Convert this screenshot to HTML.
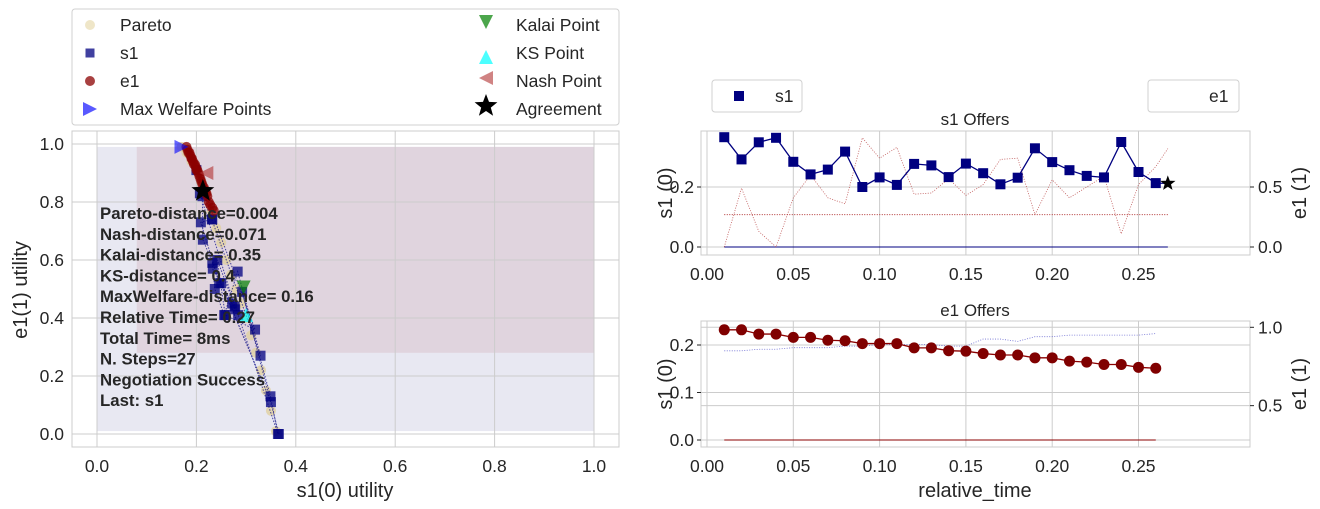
<!DOCTYPE html>
<html><head><meta charset="utf-8"><style>
body{margin:0;background:#fff;}
svg{display:block;font-family:"Liberation Sans",Arial,sans-serif;}
</style></head><body>
<svg id="fig" width="1320" height="509" viewBox="0 0 1320 509" xmlns="http://www.w3.org/2000/svg">
<g id="left"></g>
<g id="top"></g>
<g id="bot"></g>
<g id="leg"></g>
</svg>
<script>
// ---- data ----
const sTimes=[0.01,0.02,0.03,0.04,0.05,0.06,0.07,0.08,0.09,0.10,0.11,0.12,0.13,0.14,0.15,0.16,0.17,0.18,0.19,0.20,0.21,0.22,0.23,0.24,0.25,0.26,0.267];
const sOwnUtil=[0.366,0.292,0.349,0.364,0.284,0.242,0.258,0.318,0.200,0.232,0.207,0.277,0.272,0.233,0.278,0.246,0.209,0.231,0.329,0.283,0.256,0.237,0.232,0.350,0.250,0.213,0.212];
const sOppUtil=[0.00,0.49,0.13,0.00,0.41,0.60,0.41,0.36,0.91,0.74,0.83,0.44,0.45,0.57,0.43,0.52,0.73,0.74,0.27,0.56,0.41,0.50,0.59,0.11,0.52,0.67,0.82];
const eTimes=[0.01,0.02,0.03,0.04,0.05,0.06,0.07,0.08,0.09,0.10,0.11,0.12,0.13,0.14,0.15,0.16,0.17,0.18,0.19,0.20,0.21,0.22,0.23,0.24,0.25,0.26];
const eS1Util=[0.232,0.232,0.223,0.223,0.216,0.216,0.210,0.209,0.203,0.203,0.203,0.194,0.194,0.188,0.187,0.182,0.179,0.179,0.173,0.173,0.166,0.164,0.159,0.159,0.153,0.151];
const eOwnUtil=[0.85,0.85,0.86,0.86,0.87,0.87,0.87,0.88,0.88,0.89,0.89,0.89,0.89,0.88,0.88,0.925,0.925,0.91,0.94,0.94,0.95,0.95,0.95,0.95,0.95,0.96];
const eLeftX=[0.235,0.232,0.228,0.225,0.222,0.220,0.218,0.215,0.212,0.210,0.208,0.206,0.204,0.202,0.200,0.199,0.197,0.195,0.193,0.191,0.190,0.188,0.186,0.184,0.182,0.180];
const eLeftY=[0.77,0.78,0.79,0.80,0.82,0.83,0.84,0.85,0.86,0.87,0.88,0.89,0.90,0.91,0.91,0.92,0.93,0.93,0.94,0.95,0.95,0.96,0.97,0.97,0.98,0.99];
const paretoX=[0.17,0.18,0.19,0.20,0.21,0.22,0.23,0.24,0.25,0.26,0.27,0.28,0.29,0.30,0.31,0.32,0.33,0.34,0.35,0.36];
const paretoY=[0.99,0.97,0.94,0.91,0.87,0.83,0.77,0.71,0.66,0.60,0.55,0.50,0.45,0.40,0.34,0.28,0.22,0.15,0.08,0.01];
const reservedS1=0.0, reservedE1=0.27;
const xTicks=[0,0.05,0.10,0.15,0.20,0.25], xTickLbl=["0.00","0.05","0.10","0.15","0.20","0.25"];
const uTicks=[0,0.2,0.4,0.6,0.8,1.0], uTickLbl=["0.0","0.2","0.4","0.6","0.8","1.0"];

const NS="http://www.w3.org/2000/svg";
function mk(p,t,a,txt){const e=document.createElementNS(NS,t);for(const k in a)e.setAttribute(k,a[k]);if(txt!==undefined)e.textContent=txt;p.appendChild(e);return e;}
function marker(p,type,x,y,s,fill,op){
  let e;
  if(type==='sq')e=mk(p,'rect',{x:x-s,y:y-s,width:2*s,height:2*s,fill:fill,'fill-opacity':op});
  else if(type==='c')e=mk(p,'circle',{cx:x,cy:y,r:s,fill:fill,'fill-opacity':op});
  else if(type==='tr')e=mk(p,'polygon',{points:`${x-s},${y-s} ${x+s},${y} ${x-s},${y+s}`,fill:fill,'fill-opacity':op});
  else if(type==='tl')e=mk(p,'polygon',{points:`${x+s},${y-s} ${x-s},${y} ${x+s},${y+s}`,fill:fill,'fill-opacity':op});
  else if(type==='td')e=mk(p,'polygon',{points:`${x-s},${y-s} ${x+s},${y-s} ${x},${y+s}`,fill:fill,'fill-opacity':op});
  else if(type==='tu')e=mk(p,'polygon',{points:`${x-s},${y+s} ${x+s},${y+s} ${x},${y-s}`,fill:fill,'fill-opacity':op});
  else if(type==='star'){let pts=[];for(let i=0;i<10;i++){const r=i%2?s*0.42:s;const a=-Math.PI/2+i*Math.PI/5;pts.push((x+r*Math.cos(a)).toFixed(1)+','+(y+r*Math.sin(a)).toFixed(1));}e=mk(p,'polygon',{points:pts.join(' '),fill:fill,'fill-opacity':op});}
  return e;
}
const TXT='#262626', GRID='#cccccc', TF=17.5, AF=20;

// ---- left plot ----
const L=document.getElementById('left');
const lx=v=>97+v*497, ly=v=>434-v*290;
mk(L,'rect',{x:72,y:131,width:547,height:316,fill:'#fff',stroke:GRID});
mk(L,'rect',{x:lx(0),y:ly(0.99),width:lx(1)-lx(0),height:ly(0.01)-ly(0.99),fill:'#e8e8f2'});
mk(L,'rect',{x:lx(0.08),y:ly(0.99),width:lx(1)-lx(0.08),height:ly(0.28)-ly(0.99),fill:'#e0d4de'});
uTicks.forEach((t,i)=>{
  mk(L,'line',{x1:lx(t),x2:lx(t),y1:131,y2:447,stroke:GRID});
  mk(L,'line',{x1:72,x2:619,y1:ly(t),y2:ly(t),stroke:GRID});
  const tx=mk(L,'text',{x:lx(t),y:472,'font-size':TF,fill:TXT,'text-anchor':'middle'},uTickLbl[i]);
  
  
  const ty=mk(L,'text',{x:64,y:ly(t)+6,'font-size':TF,fill:TXT,'text-anchor':'end'},uTickLbl[i]);
  
  
});
paretoX.forEach((v,i)=>{const c=marker(L,'c',lx(v),ly(paretoY[i]),5,'#e0d0a0',0.8);
  
  });
mk(L,'polyline',{points:sOwnUtil.map((v,i)=>lx(v)+','+ly(sOppUtil[i])).join(' '),fill:'none',stroke:'#000080','stroke-width':1,'stroke-dasharray':'1.5,1.5','stroke-opacity':0.7});
sOwnUtil.forEach((v,i)=>{const m=marker(L,'sq',lx(v),ly(sOppUtil[i]),5,'#000080',0.75);
  
  });
mk(L,'polyline',{points:eLeftX.map((v,i)=>lx(v)+','+ly(eLeftY[i])).join(' '),fill:'none',stroke:'#800000','stroke-width':1,'stroke-dasharray':'1.5,1.5'});
eLeftX.forEach((v,i)=>{const m=marker(L,'c',lx(v),ly(eLeftY[i]),5,'#8b0000',0.75);
  
  });
let m1=marker(L,'tr',lx(0.17),ly(0.99),7,'#0000ff',0.6);
let m2=marker(L,'tl',lx(0.22),ly(0.90),7,'#b03030',0.6);
let m3=marker(L,'td',lx(0.295),ly(0.505),7,'#008000',0.7);
let m4=marker(L,'tu',lx(0.30),ly(0.41),7,'#00ffff',0.7);
let m5=marker(L,'star',lx(0.213),ly(0.838),12,'#000',1);
const ann=["Pareto-distance=0.004","Nash-distance=0.071","Kalai-distance= 0.35","KS-distance= 0.4","MaxWelfare-distance= 0.16","Relative Time= 0.27","Total Time= 8ms","N. Steps=27","Negotiation Success","Last: s1"];
ann.forEach((s,i)=>{const t=mk(L,'text',{x:100,y:219+i*20.8,'font-size':16.8,'font-weight':'bold',fill:TXT},s);
  
  });
let xl=mk(L,'text',{x:345,y:497,'font-size':AF,fill:TXT,'text-anchor':'middle'},'s1(0) utility');
let yl=mk(L,'text',{x:27,y:290,'font-size':AF,fill:TXT,'text-anchor':'middle',transform:'rotate(-90 27 290)'},'e1(1) utility');

// ---- legend ----
const G=document.getElementById('leg');
mk(G,'rect',{x:72,y:9,width:547,height:116,rx:3,fill:'#fff',stroke:'#d0d0d0'});
const legL=[['c','#e8dcb0',0.7,'Pareto'],['sq','#000080',0.75,'s1'],['c','#8b0000',0.75,'e1'],['tr','#0000ff',0.65,'Max Welfare Points']];
const legR=[['td','#008000',0.7,'Kalai Point'],['tu','#00ffff',0.7,'KS Point'],['tl','#b03030',0.6,'Nash Point'],['star','#000',1,'Agreement']];
legL.forEach((e,i)=>{const y=25+i*28;marker(G,e[0],90,y,e[0]==='c'?5:e[0]==='sq'?4.5:7,e[1],e[2]);
  const t=mk(G,'text',{x:120,y:y+6,'font-size':TF,fill:TXT},e[3]);});
legR.forEach((e,i)=>{const y=(i==1?29:22)+i*28;marker(G,e[0],486,y,e[0]==='star'?12:7,e[1],e[2]);
  const t=mk(G,'text',{x:516,y:(25+i*28)+6,'font-size':TF,fill:TXT},e[3]);});

// ---- right plots ----
const tx=v=>707+v*1726;
function frame(P,y0,y1,title,ty){
  mk(P,'rect',{x:701,y:y0,width:549,height:y1-y0,fill:'#fff',stroke:GRID});
  xTicks.forEach((t,i)=>{mk(P,'line',{x1:tx(t),x2:tx(t),y1:y0,y2:y1,stroke:GRID});
    const l=mk(P,'text',{x:tx(t),y:y1+25,'font-size':TF,fill:TXT,'text-anchor':'middle'},xTickLbl[i]);
    });
  const tt=mk(P,'text',{x:975,y:ty,'font-size':17,fill:TXT,'text-anchor':'middle'},title);
  
}
function yticks(P,vals,lbls,f,right){
  vals.forEach((v,i)=>{mk(P,'line',{x1:701,x2:1250,y1:f(v),y2:f(v),stroke:GRID});
    const x=right?1258:694;
    mk(P,'line',{x1:right?1250:697,x2:right?1254:701,y1:f(v),y2:f(v),stroke:TXT});
    const l=mk(P,'text',{x:x,y:f(v)+6,'font-size':TF,fill:TXT,'text-anchor':right?'start':'end'},lbls[i]);
    });
}
// top
const T=document.getElementById('top');
frame(T,131,255,'s1 Offers',125);
const t1=v=>247-v*300, t2=v=>247-v*120;
yticks(T,[0,0.2],["0.0","0.2"],t1,false);
yticks(T,[0,0.5],["0.0","0.5"],t2,true);
mk(T,'line',{x1:tx(sTimes[0]),x2:tx(sTimes[sTimes.length-1]),y1:t1(reservedS1),y2:t1(reservedS1),stroke:'#000080','stroke-width':1});
mk(T,'line',{x1:tx(sTimes[0]),x2:tx(sTimes[sTimes.length-1]),y1:t2(reservedE1),y2:t2(reservedE1),stroke:'#b03030','stroke-width':1,'stroke-dasharray':'1,1.5'});
mk(T,'polyline',{points:sTimes.map((t,i)=>tx(t)+','+t2(sOppUtil[i])).join(' '),fill:'none',stroke:'#b03030','stroke-width':0.8,'stroke-dasharray':'1,1.5','stroke-opacity':0.8});
mk(T,'polyline',{points:sTimes.map((t,i)=>tx(t)+','+t1(sOwnUtil[i])).join(' '),fill:'none',stroke:'#000080','stroke-width':1.3});
sTimes.forEach((t,i)=>{let m;
  if(i<sTimes.length-1)m=marker(T,'sq',tx(t),t1(sOwnUtil[i]),5,'#000080',1);
  else m=marker(T,'star',tx(t),t1(sOwnUtil[i]),8,'#000',1);
  });
let a1=mk(T,'text',{x:672,y:193,'font-size':AF,fill:TXT,'text-anchor':'middle',transform:'rotate(-90 672 193)'},'s1 (0)');
let a2=mk(T,'text',{x:1306,y:193,'font-size':AF,fill:TXT,'text-anchor':'middle',transform:'rotate(-90 1306 193)'},'e1 (1)');
mk(T,'rect',{x:712,y:80,width:90,height:32,rx:3,fill:'#fff',stroke:'#d0d0d0'});
marker(T,'sq',739,96,5,'#000080',1);
let lg1=mk(T,'text',{x:775,y:102,'font-size':TF,fill:TXT},'s1');
mk(T,'rect',{x:1148,y:80,width:91,height:32,rx:3,fill:'#fff',stroke:'#d0d0d0'});
let lg2=mk(T,'text',{x:1209,y:102,'font-size':TF,fill:TXT},'e1');
// bottom
const B=document.getElementById('bot');
frame(B,321,447,'e1 Offers',316);
const b1=v=>440-v*475, b2=v=>327.3-(v-1)*156.7;
yticks(B,[0,0.1,0.2],["0.0","0.1","0.2"],b1,false);
yticks(B,[0.5,1.0],["0.5","1.0"],b2,true);
mk(B,'line',{x1:tx(eTimes[0]),x2:tx(eTimes[eTimes.length-1]),y1:b1(0),y2:b1(0),stroke:'#8b0000','stroke-width':1});
mk(B,'polyline',{points:eTimes.map((t,i)=>tx(t)+','+b2(eOwnUtil[i])).join(' '),fill:'none',stroke:'#3030c0','stroke-width':0.8,'stroke-dasharray':'1,1.5','stroke-opacity':0.7});
mk(B,'polyline',{points:eTimes.map((t,i)=>tx(t)+','+b1(eS1Util[i])).join(' '),fill:'none',stroke:'#8b0000','stroke-width':1.3});
eTimes.forEach((t,i)=>{const m=marker(B,'c',tx(t),b1(eS1Util[i]),5.5,'#800000',1);
  });
let a3=mk(B,'text',{x:672,y:384,'font-size':AF,fill:TXT,'text-anchor':'middle',transform:'rotate(-90 672 384)'},'s1 (0)');
let a4=mk(B,'text',{x:1306,y:384,'font-size':AF,fill:TXT,'text-anchor':'middle',transform:'rotate(-90 1306 384)'},'e1 (1)');
let a5=mk(B,'text',{x:975,y:497,'font-size':AF,fill:TXT,'text-anchor':'middle'},'relative_time');
</script>
</body></html>
